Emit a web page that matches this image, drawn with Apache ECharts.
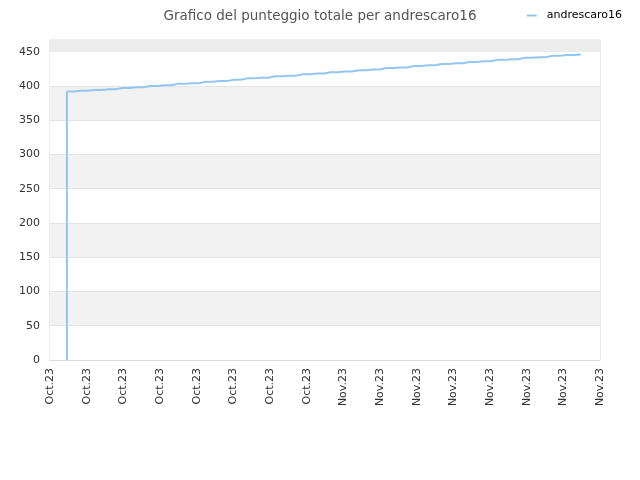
<!DOCTYPE html>
<html>
<head>
<meta charset="utf-8">
<script src="https://cdn.jsdelivr.net/npm/echarts@6/dist/echarts.min.js"></script>
<style>
  html, body { margin: 0; padding: 0; background: #fff; }
  #chart { width: 640px; height: 480px; }
</style>
</head>
<body>
<div id="chart"></div>
<script>
// etichette asse x (mese.anno)
var xLabels = ['Oct.23', 'Oct.23', 'Oct.23', 'Oct.23', 'Oct.23', 'Oct.23', 'Oct.23', 'Oct.23',
               'Nov.23', 'Nov.23', 'Nov.23', 'Nov.23', 'Nov.23', 'Nov.23', 'Nov.23', 'Nov.23'];
var xInterval = 2.64;   // giorni tra due etichette
var yTicks = [0, 50, 100, 150, 200, 250, 300, 350, 400, 450];

// giorno di ogni punto (il primo e' doppio: parte da zero)
var days = [1.22, 1.22, 2.22, 3.22, 4.22, 5.22, 6.22, 7.22, 8.22, 9.22, 10.22,
            11.22, 12.22, 13.22, 14.22, 15.22, 16.22, 17.22, 18.22, 19.22, 20.22,
            21.22, 22.22, 23.22, 24.22, 25.22, 26.22, 27.22, 28.22, 29.22, 30.22,
            31.22, 32.22, 33.22, 34.22, 35.22, 36.22, 37.22, 38.22];
// punteggio totale
var scores = [0, 392, 393, 394, 395, 397, 398, 400, 401, 403, 404,
              406, 407, 409, 411, 412, 414, 415, 417, 418, 420,
              421, 423, 424, 426, 427, 429, 430, 432, 433, 435,
              436, 438, 439, 441, 442, 444, 445, 446];

var chart = echarts.init(document.getElementById('chart'));

var points = [];
for (var i = 0; i < days.length; i++) {
  points.push([days[i], scores[i]]);
}

var option = {
  animation: false,
  textStyle: { fontFamily: 'DejaVu Sans' },
  title: {
    text: 'Grafico del punteggio totale per andrescaro16',
    left: 'center',
    top: 4,
    textStyle: { fontSize: 13.5, fontWeight: 'normal', color: '#555', fontFamily: 'DejaVu Sans' }
  },
  legend: {
    right: 13,
    top: 5,
    itemWidth: 10,
    itemHeight: 2,
    itemGap: 6,
    icon: 'rect',
    textStyle: { fontSize: 11, color: '#000', fontFamily: 'DejaVu Sans', padding: [0, 0, 0, 5] },
    data: ['andrescaro16']
  },
  grid: {
    left: 50, right: 40, top: 40, bottom: 120,
    show: true, borderColor: '#dcdcdc', borderWidth: 1,
    containLabel: false
  },
  xAxis: {
    type: 'value',
    min: 0,
    max: xInterval * (xLabels.length - 1),
    interval: xInterval,
    axisLine: { show: true, lineStyle: { color: '#dcdcdc' } },
    axisTick: { show: false },
    splitLine: { show: false },
    axisLabel: {
      rotate: 90,
      fontSize: 11,
      color: '#333',
      margin: 8,
      formatter: function (v) {
        var k = Math.round(v / xInterval);
        return xLabels[k] || '';
      }
    }
  },
  yAxis: {
    type: 'value',
    min: 0,
    max: 467,
    interval: 50,
    axisLine: { show: false },
    axisTick: { show: false },
    axisLabel: {
      fontSize: 11,
      color: '#333',
      margin: 10,
      formatter: function (v) {
        return yTicks.indexOf(v) >= 0 ? String(v) : '';
      }
    },
    splitLine: { show: true, lineStyle: { color: '#e4e4e4' } },
    splitArea: { show: true, areaStyle: { color: ['#ffffff', '#f2f2f2'] } }
  },
  series: [{
    name: 'andrescaro16',
    type: 'line',
    step: 'middle',
    data: points,
    showSymbol: false,
    symbol: 'none',
    color: '#94c6f2',
    lineStyle: { width: 2, color: '#94c6f2' },
    markArea: {
      silent: true,
      itemStyle: { color: '#ececec' },
      data: [[{ yAxis: 450 }, { yAxis: 467 }]]
    }
  }]
};

chart.setOption(option);
</script>
</body>
</html>
